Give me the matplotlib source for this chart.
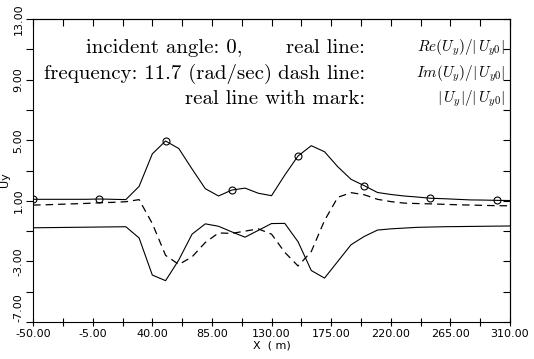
import matplotlib
matplotlib.use("Agg")
import matplotlib.pyplot as plt
from matplotlib.ticker import FixedLocator, NullFormatter
import numpy as np

plt.rcParams['mathtext.fontset'] = 'cm'

# x positions along the surface (m)
x = np.arange(-50, 311, 10)

# |Uy|/|Uy0|  (real line with mark)
amp = [1.10, 1.10, 1.10, 1.10, 1.10, 1.12, 1.10, 1.08, 1.95, 4.10,
       4.95, 4.45, 3.10, 1.80, 1.32, 1.71, 1.84, 1.50, 1.34, 2.70,
       3.96, 4.64, 4.24, 3.25, 2.42, 2.00, 1.55, 1.42, 1.32, 1.25,
       1.17, 1.14, 1.10, 1.06, 1.05, 1.03, 1.02]

# Re(Uy)/|Uy0|  (real line)
re = [-0.78, -0.77, -0.76, -0.75, -0.74, -0.73, -0.72, -0.71, -1.45, -3.90,
      -4.27, -2.90, -1.20, -0.52, -0.68, -1.05, -1.40, -0.95, -0.50, -0.49,
      -1.70, -3.60, -4.10, -3.00, -1.90, -1.35, -0.93, -0.85, -0.80, -0.75,
      -0.73, -0.71, -0.70, -0.69, -0.68, -0.67, -0.66]

# Im(Uy)/|Uy0|  (dash line)
im = [0.72, 0.74, 0.77, 0.80, 0.83, 0.87, 0.90, 0.94, 1.08, -0.50,
      -2.60, -3.20, -2.70, -1.75, -1.12, -1.15, -1.00, -0.85, -1.20, -2.40,
      -3.30, -2.35, -0.30, 1.23, 1.54, 1.40, 1.10, 0.95, 0.85, 0.82,
      0.80, 0.77, 0.74, 0.72, 0.70, 0.68, 0.67]

x_major = [-50, -5, 40, 85, 130, 175, 220, 265, 310]
x_minor = [-27.5, 17.5, 62.5, 107.5, 152.5, 197.5, 242.5, 287.5]
y_major = [-7, -3, 1, 5, 9, 13]
y_minor = [-5, -1, 3, 7, 11]

fig = plt.figure(figsize=(5.34, 3.59), dpi=100)
ax = fig.add_axes([0.062, 0.103, 0.893, 0.844])

ax.plot(x, amp, color='black', lw=0.8, marker='o', markevery=5,
        markersize=5, markerfacecolor='none', markeredgewidth=0.8)
ax.plot(x, re, color='black', lw=0.8)
ax.plot(x, im, color='black', lw=0.9, dashes=(6, 4))

ax.set_xlim(-50, 310)
ax.set_ylim(-7, 13)

ax.xaxis.set_major_locator(FixedLocator(x_major))
ax.xaxis.set_minor_locator(FixedLocator(x_minor))
ax.yaxis.set_major_locator(FixedLocator(y_major))
ax.yaxis.set_minor_locator(FixedLocator(y_minor))
ax.set_xticklabels(['%.2f' % v for v in x_major])
ax.set_yticklabels(['%.2f' % v for v in y_major], rotation=90, va='center')
ax.get_yticklabels()[0].set_va('bottom')
ax.tick_params(axis='x', which='both', direction='inout', length=6, width=0.8,
               labelsize=8, pad=2)
ax.tick_params(axis='y', which='both', direction='out', length=5, width=0.8,
               labelsize=8, pad=2)

top = ax.secondary_xaxis('top')
top.xaxis.set_major_locator(FixedLocator(x_major + x_minor))
top.xaxis.set_major_formatter(NullFormatter())
top.tick_params(direction='in', length=5, width=0.8)
right = ax.secondary_yaxis('right')
right.yaxis.set_major_locator(FixedLocator(y_major + y_minor))
right.yaxis.set_major_formatter(NullFormatter())
right.tick_params(direction='in', length=5, width=0.8)

ax.set_xlabel('X  ( m)', fontsize=8, labelpad=1)
ax.set_ylabel('Uy', fontsize=8)
ax.yaxis.set_label_coords(-0.048, 0.47)

fs = 15
ax.text(0.44, 0.905, 'incident angle: 0,', family='cmr10', fontsize=fs,
        ha='right', va='center', transform=ax.transAxes)
ax.text(0.502, 0.82, 'frequency: 11.7 (rad/sec)', family='cmr10', fontsize=fs,
        ha='right', va='center', transform=ax.transAxes)
ax.text(0.696, 0.905, 'real line:', family='cmr10', fontsize=fs,
        ha='right', va='center', transform=ax.transAxes)
ax.text(0.696, 0.82, 'dash line:', family='cmr10', fontsize=fs,
        ha='right', va='center', transform=ax.transAxes)
ax.text(0.696, 0.737, 'real line with mark:', family='cmr10', fontsize=fs,
        ha='right', va='center', transform=ax.transAxes)
ax.text(0.99, 0.905, r'$Re(U_y)/|\,U_{y0}|$', fontsize=11,
        ha='right', va='center', transform=ax.transAxes)
ax.text(0.99, 0.82, r'$Im(U_y)/|\,U_{y0}|$', fontsize=11,
        ha='right', va='center', transform=ax.transAxes)
ax.text(0.99, 0.737, r'$|\,U_y|/|\,U_{y0}|$', fontsize=11,
        ha='right', va='center', transform=ax.transAxes)

fig.savefig('out.png', dpi=100)
